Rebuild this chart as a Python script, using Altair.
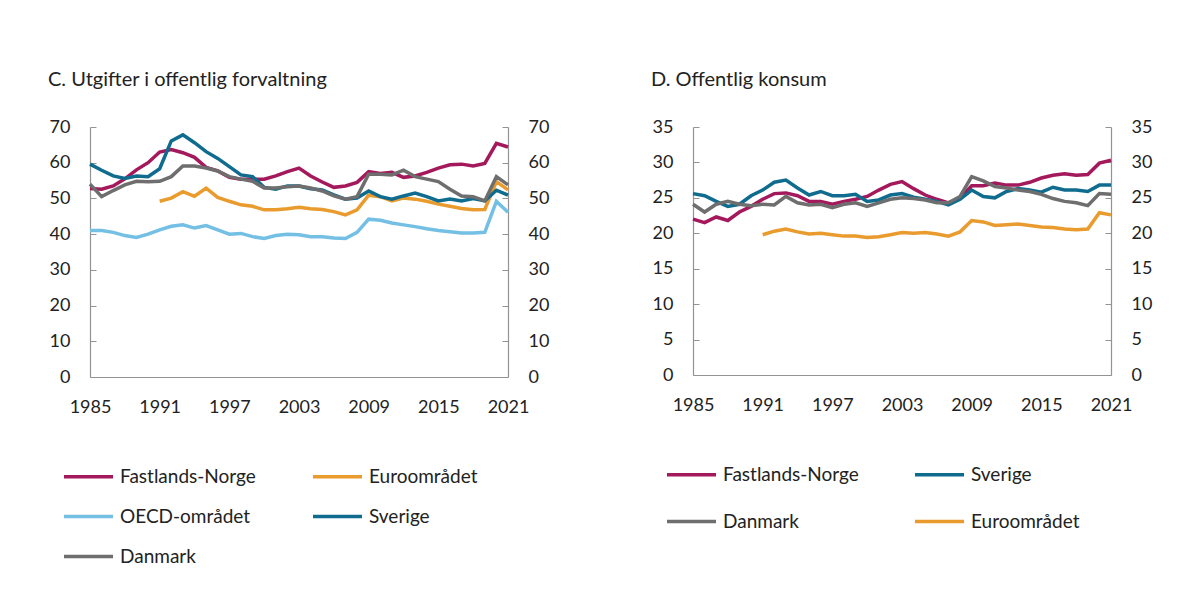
import altair as alt
import pandas as pd

years = list(range(1985, 2022))
euro_years = list(range(1991, 2022))

# Panel C: Utgifter i offentlig forvaltning (prosent av BNP)
c_norge = [52.8, 52.6, 53.5, 55.5, 58.0, 60.0, 63.0, 63.7, 62.8, 61.5,
           58.7, 57.7, 55.9, 55.4, 55.4, 55.4, 56.3, 57.5, 58.5, 56.3,
           54.6, 53.1, 53.5, 54.5, 57.5, 57.0, 57.3, 55.9, 56.3, 57.3,
           58.5, 59.4, 59.6, 59.1, 59.8, 65.4, 64.4]
c_sverige = [59.6, 57.9, 56.3, 55.6, 56.3, 56.1, 58.3, 66.1, 67.8, 65.6,
             63.1, 61.2, 58.9, 56.6, 56.1, 53.1, 52.6, 53.5, 53.5, 52.7,
             52.4, 51.0, 49.8, 50.1, 52.1, 50.5, 49.8, 50.7, 51.5, 50.5,
             49.3, 49.8, 49.3, 50.0, 49.3, 52.3, 50.9]
c_danmark = [54.0, 50.5, 52.2, 53.8, 54.8, 54.7, 54.8, 56.1, 59.1, 59.1,
             58.5, 57.7, 56.1, 55.4, 54.8, 52.9, 52.9, 53.3, 53.5, 52.9,
             52.1, 50.7, 49.8, 50.5, 56.8, 56.8, 56.6, 57.9, 56.1, 55.4,
             54.7, 52.6, 50.7, 50.5, 49.3, 56.1, 53.8]
c_oecd = [41.0, 41.0, 40.5, 39.6, 39.1, 40.0, 41.2, 42.2, 42.6, 41.7,
          42.4, 41.2, 40.0, 40.2, 39.3, 38.8, 39.6, 40.0, 39.8, 39.3,
          39.3, 38.9, 38.8, 40.5, 44.2, 43.9, 43.1, 42.6, 42.1, 41.5,
          41.0, 40.7, 40.3, 40.3, 40.5, 49.2, 46.1]
c_euro = [49.2, 50.1, 51.9, 50.6, 52.9, 50.3, 49.2, 48.2, 47.8, 46.8,
          46.8, 47.1, 47.5, 47.1, 46.9, 46.3, 45.4, 46.8, 50.9, 50.5,
          49.3, 50.1, 49.8, 49.2, 48.4, 47.8, 47.2, 46.8, 46.9, 54.7, 52.4]

# Panel D: Offentlig konsum (prosent av BNP)
d_norge = [22.0, 21.5, 22.3, 21.8, 23.0, 23.8, 24.8, 25.6, 25.7, 25.3,
           24.5, 24.5, 24.1, 24.5, 24.8, 25.2, 26.1, 26.9, 27.3, 26.3,
           25.4, 24.8, 24.3, 25.0, 26.7, 26.7, 27.1, 26.8, 26.8, 27.2,
           27.8, 28.2, 28.4, 28.2, 28.3, 29.9, 30.3]
d_sverige = [25.6, 25.3, 24.5, 23.8, 24.1, 25.3, 26.1, 27.2, 27.5, 26.4,
             25.4, 25.9, 25.3, 25.3, 25.5, 24.5, 24.7, 25.4, 25.6, 25.1,
             24.8, 24.5, 24.0, 24.8, 26.1, 25.2, 25.0, 25.9, 26.3, 26.1,
             25.8, 26.5, 26.1, 26.1, 25.9, 26.8, 26.8]
d_danmark = [24.1, 23.0, 24.1, 24.5, 24.1, 23.9, 24.1, 24.0, 25.2, 24.3,
             24.0, 24.1, 23.6, 24.1, 24.3, 23.8, 24.3, 24.8, 25.0, 24.9,
             24.7, 24.3, 24.3, 25.2, 28.0, 27.4, 26.6, 26.4, 26.1, 25.9,
             25.5, 24.9, 24.5, 24.3, 23.9, 25.6, 25.5]
d_euro = [19.8, 20.3, 20.6, 20.2, 19.9, 20.0, 19.8, 19.6, 19.6, 19.4,
          19.5, 19.8, 20.1, 20.0, 20.1, 19.9, 19.6, 20.2, 21.8, 21.6,
          21.1, 21.2, 21.3, 21.1, 20.9, 20.8, 20.6, 20.5, 20.6, 22.9, 22.6]

x_ticks = [1985, 1991, 1997, 2003, 2009, 2015, 2021]
c_ticks = [0, 10, 20, 30, 40, 50, 60, 70]
d_ticks = [0, 5, 10, 15, 20, 25, 30, 35]

COLORS = {
    "Fastlands-Norge": "#A3195B",
    "Euroområdet": "#E99B2E",
    "OECD-området": "#74BFE4",
    "Sverige": "#0F6C8E",
    "Danmark": "#6E6E6E",
}

# legend entries are filled column by column
c_order = ["Fastlands-Norge", "OECD-området", "Danmark", "Euroområdet", "Sverige"]
d_order = ["Fastlands-Norge", "Danmark", "Sverige", "Euroområdet"]


def to_long(series):
    rows = []
    for name, (yrs, vals) in series.items():
        for yr, v in zip(yrs, vals):
            rows.append({"serie": name, "year": yr, "value": v})
    return pd.DataFrame(rows)


c_df = to_long({
    "Fastlands-Norge": (years, c_norge),
    "Euroområdet": (euro_years, c_euro),
    "OECD-området": (years, c_oecd),
    "Sverige": (years, c_sverige),
    "Danmark": (years, c_danmark),
})
d_df = to_long({
    "Fastlands-Norge": (years, d_norge),
    "Sverige": (years, d_sverige),
    "Danmark": (years, d_danmark),
    "Euroområdet": (euro_years, d_euro),
})

FONT = "Lato"
TXT = "#222222"
AX = "#939393"
W = 418


def panel(df, order, ymax, yticks, title, height, legend_y, row_pad, col_pad, title_offset):
    yscale = alt.Scale(domain=[0, ymax], nice=False, zero=True)
    xscale = alt.Scale(domain=[1985, 2021], nice=False, zero=False)
    color = alt.Color(
        "serie:N",
        sort=order,
        scale=alt.Scale(domain=order, range=[COLORS[o] for o in order]),
        legend=alt.Legend(
            title=None, orient="none", legendX=-28, legendY=legend_y,
            columns=2, symbolType="stroke", symbolSize=2401,
            symbolStrokeWidth=3.5, labelFont=FONT, labelFontSize=19,
            labelColor=TXT, labelOffset=5, columnPadding=col_pad,
            rowPadding=row_pad, labelLimit=400,
        ),
    )
    x = alt.X(
        "year:Q", scale=xscale,
        axis=alt.Axis(values=x_ticks, format="d", title=None, ticks=False,
                      grid=False, labelPadding=21, domain=True,
                      domainColor=AX, domainWidth=1.2,
                      labelFont=FONT, labelFontSize=18, labelColor=TXT,
                      labelFlush=False),
    )
    y_left = alt.Y(
        "value:Q", scale=yscale,
        axis=alt.Axis(values=yticks, title=None, ticks=False, grid=True,
                      gridDash=[6, W - 12], gridColor=AX, gridWidth=1.2,
                      gridOpacity=1, domain=True, domainWidth=1.2,
                      labelPadding=20, domainColor=AX, labelFont=FONT,
                      labelFontSize=18, labelColor=TXT),
    )
    y_right = alt.Y(
        "value:Q", scale=yscale,
        axis=alt.Axis(orient="right", values=yticks, title=None, ticks=False,
                      grid=False, domain=True, domainWidth=1.2,
                      labelPadding=20, domainColor=AX,
                      labelFont=FONT, labelFontSize=18, labelColor=TXT),
    )
    lines = alt.Chart(df).mark_line(strokeWidth=3.5).encode(
        x=x, y=y_left, color=color
    )
    ghost = alt.Chart(df).mark_line(opacity=0).encode(
        x=x,
        y=y_right,
        detail="serie:N",
    )
    return alt.layer(lines, ghost).resolve_axis(y="independent").properties(
        width=W, height=height,
        title=alt.TitleParams(title, anchor="start", frame="group", dx=-42,
                              font=FONT, fontSize=20, fontWeight="normal",
                              color=TXT, offset=title_offset),
    )


left = panel(c_df, c_order, 70, c_ticks, "C. Utgifter i offentlig forvaltning",
             250, 323, 3, 50, 28)
right = panel(d_df, d_order, 35, d_ticks, "D. Offentlig konsum",
              248, 321, 10, 49, 28)

chart = alt.hconcat(left, right, spacing=100).resolve_scale(
    color="independent", x="independent", y="independent"
).resolve_legend(color="independent").properties(
    padding={"left": 39, "top": 61, "right": 5, "bottom": 5},
    background="white",
).configure_view(stroke="transparent")

chart.save("out.html", embed_options={"renderer": "svg", "actions": False})
